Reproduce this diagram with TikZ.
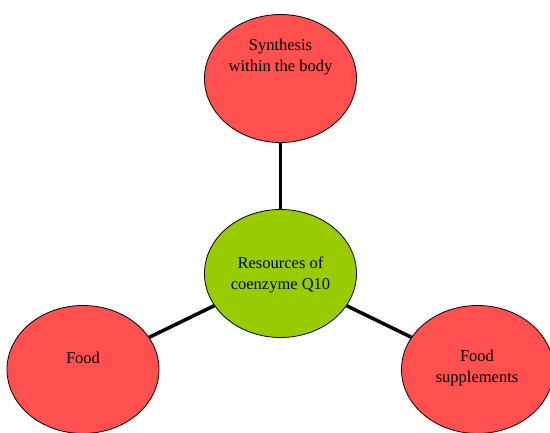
\documentclass[tikz,border=0pt]{standalone}
\usepackage{fontspec}
\setmainfont{Liberation Serif}
\usetikzlibrary{shapes.geometric}

\definecolor{srcred}{RGB}{255,80,80}
\definecolor{coregreen}{RGB}{153,204,0}

\begin{document}
\begin{tikzpicture}[x=1pt,y=-1pt,
  blob/.style={ellipse,draw=black,line width=0.8pt,inner sep=0pt,
    minimum width=152pt,minimum height=128pt},
  source/.style={blob,fill=srcred},
  core/.style={blob,fill=coregreen},
  txt/.style={align=center,font=\fontsize{16.5}{21}\selectfont},
  link/.style={line width=3.5pt}]
  \useasboundingbox (0,0) rectangle (550,433);

  % the four ellipses
  \node[source] (synth) at (280.5,78.5) {};
  \node[core] (q10) at (280.5,273.5) {};
  \node[source] (food) at (83,369.5) {};
  \node[source] (suppl) at (477.5,369.5) {};

  % connectors
  \draw[link] (q10) -- (synth);
  \draw[link] (q10) -- (food);
  \draw[link] (q10) -- (suppl);

  % labels
  \node[txt] (synthtext) at (280.5,57) {Synthesis\\within the body};
  \node[txt] (q10text) at (280.5,274.5) {Resources of\\coenzyme Q10};
  \node[txt] (foodtext) at (83,357.5) {Food};
  \node[txt] (suppltext) at (477,368) {Food\\supplements};
\end{tikzpicture}
\end{document}
